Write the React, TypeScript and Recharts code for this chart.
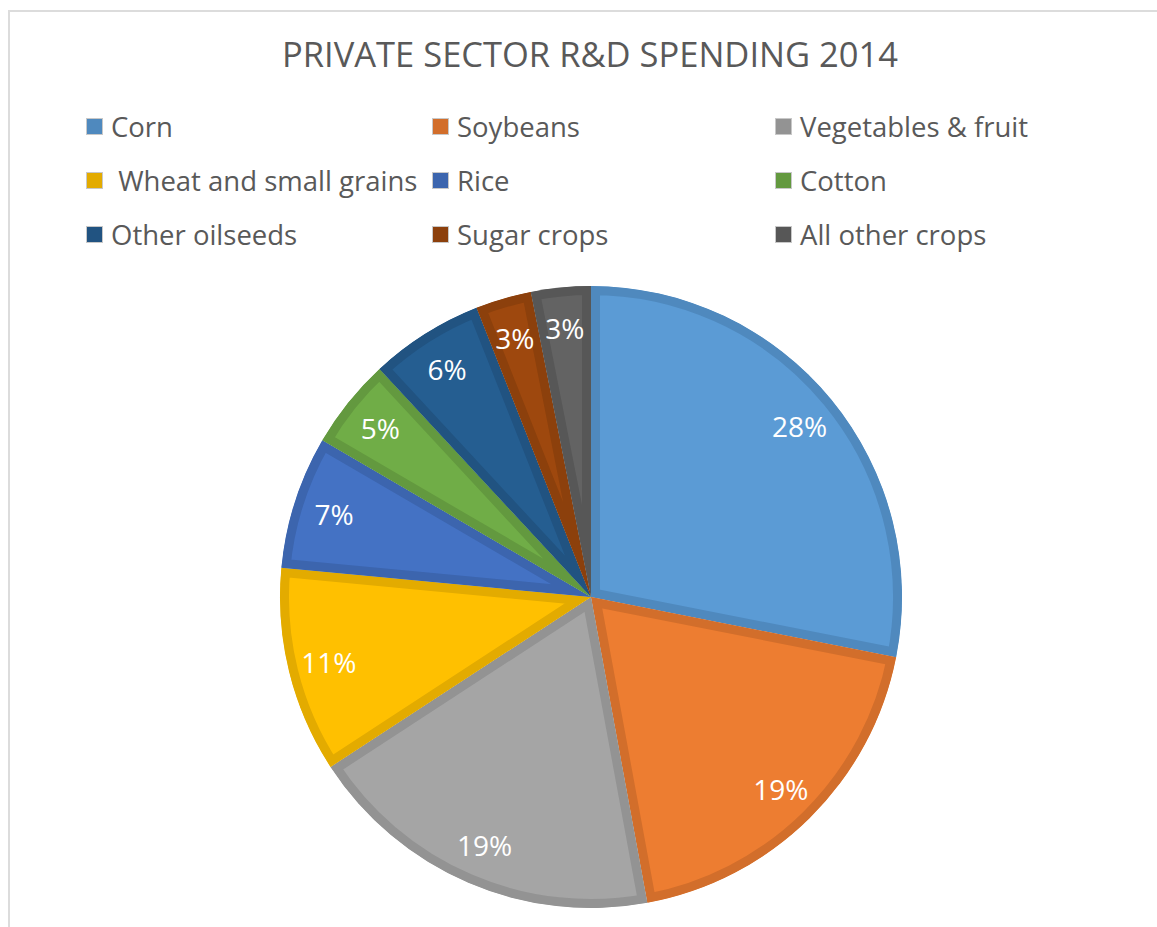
import { PieChart, Pie, Sector } from 'recharts';

const crops = [
  'Corn',
  'Soybeans',
  'Vegetables & fruit',
  ' Wheat and small grains',
  'Rice',
  'Cotton',
  'Other oilseeds',
  'Sugar crops',
  'All other crops',
];
const shares = [28.1, 19.0, 18.7, 10.7, 6.9, 4.7, 5.9, 2.9, 3.1];
const fills = ['#5B9BD5', '#ED7D31', '#A5A5A5', '#FFC000', '#4472C4', '#70AD47', '#255E91', '#9E480E', '#636363'];
const borders = ['#4F89BE', '#D26E2B', '#939393', '#E3AB00', '#3C65AE', '#63993F', '#215381', '#8C400C', '#575757'];

const data = crops.map((name, i) => ({ name, value: shares[i], fill: fills[i] }));

const FONT = '"Open Sans", "Noto Sans", sans-serif';
const RAD = Math.PI / 180;

// slice with an inner border: wide stroke clipped to the slice itself
function BorderedSlice(props: any) {
  const { cx, cy, innerRadius, outerRadius, startAngle, endAngle, payload } = props;
  const i = Math.max(0, crops.indexOf(payload?.name ?? props.name));
  const id = `slice-clip-${i}`;
  const geo = { cx, cy, innerRadius, outerRadius, startAngle, endAngle };
  return (
    <g>
      <defs>
        <clipPath id={id}>
          <Sector {...geo} />
        </clipPath>
      </defs>
      <Sector {...geo} fill={fills[i]} stroke={borders[i]} strokeWidth={18} clipPath={`url(#${id})`} />
    </g>
  );
}

function renderLabel(props: any) {
  const { cx, cy, midAngle, percent } = props;
  const r = 270;
  const x = cx + r * Math.cos(-midAngle * RAD);
  const y = cy + r * Math.sin(-midAngle * RAD);
  return (
    <text x={x} y={y} fill="#fff" fontSize={28} fontFamily={FONT} textAnchor="middle" dominantBaseline="central">
      {`${Math.round(percent * 100)}%`}
    </text>
  );
}

const colX = [86, 432, 775];

function CropLegend() {
  return (
    <div style={{ position: 'absolute', left: 0, top: 108, width: 1157, height: 170 }}>
      {crops.map((name, i) => (
        <div
          key={name}
          style={{
            position: 'absolute',
            left: colX[i % 3],
            top: Math.floor(i / 3) * 54,
            display: 'flex',
            alignItems: 'center',
            height: 36,
          }}
        >
          <span
            style={{
              width: 17,
              height: 17,
              background: borders[i],
              border: '1px solid #c8c8c8',
              marginRight: 8,
              boxSizing: 'border-box',
              flexShrink: 0,
            }}
          />
          <span style={{ fontFamily: FONT, fontSize: 27.5, color: '#595959', whiteSpace: 'pre' }}>{name}</span>
        </div>
      ))}
    </div>
  );
}

export default function App() {
  return (
    <div style={{ position: 'fixed', left: 0, top: 0, width: 1157, height: 927, overflow: 'hidden', background: '#fff' }}>
      <div
        style={{
          position: 'absolute',
          left: 8,
          top: 10,
          width: 1300,
          height: 1100,
          border: '2px solid #dcdcdc',
          boxSizing: 'border-box',
        }}
      />
      <div
        style={{
          position: 'absolute',
          left: 0,
          top: 30,
          width: 1180,
          textAlign: 'center',
          fontFamily: FONT,
          fontSize: 34.5,
          color: '#595959',
        }}
      >
        PRIVATE SECTOR R&amp;D SPENDING 2014
      </div>
      <CropLegend />
      <div style={{ position: 'absolute', left: 0, top: 0 }}>
        <PieChart width={1157} height={927} margin={{ top: 0, right: 0, bottom: 0, left: 0 }}>
          <Pie
            data={data}
            dataKey="value"
            nameKey="name"
            cx={591}
            cy={597}
            outerRadius={311}
            startAngle={90}
            endAngle={-270}
            stroke="none"
            shape={BorderedSlice}
            inactiveShape={BorderedSlice}
            label={renderLabel}
            labelLine={false}
            isAnimationActive={false}
          />
        </PieChart>
      </div>
    </div>
  );
}
